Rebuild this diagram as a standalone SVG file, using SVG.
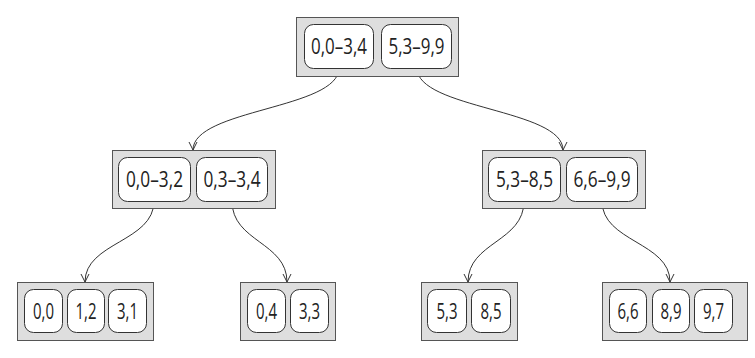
<svg xmlns="http://www.w3.org/2000/svg" width="755" height="358" viewBox="0 0 755 358">
<style>
.outer{fill:#dedede;stroke:#555;stroke-width:1}
.inner{fill:#fff;stroke:#333;stroke-width:1}
.t{font-family:"Open Sans","DejaVu Sans",sans-serif;font-size:21px;fill:#222;text-anchor:middle}
.edge{fill:none;stroke:#333;stroke-width:1;marker-end:url(#arr)}
</style>
<defs>
<marker id="arr" viewBox="0 0 10 10" refX="9" refY="5" markerWidth="10" markerHeight="10" markerUnits="userSpaceOnUse" orient="auto">
<path d="M1,1 L9,5 L1,9" fill="none" stroke="#333" stroke-width="1"/>
</marker>
</defs>
<rect width="755" height="358" fill="#fff"/>
<g id="connectors">
<path class="edge" d="M339,68 C339,109 193,109 193,150"/>
<path class="edge" d="M417,68 C417,109 563,109 563,150"/>
<path class="edge" d="M154,201 C154,242 85,242 85,282"/>
<path class="edge" d="M232,201 C232,242 287,242 287,282"/>
<path class="edge" d="M524,201 C524,242 468,242 468,282"/>
<path class="edge" d="M602,201 C602,242 670,242 670,282"/>
</g>
<g id="root">
<rect class="outer" x="296.5" y="17.5" width="162" height="59"/>
<rect class="inner" x="304.5" y="24.5" width="69" height="44" rx="9"/>
<rect class="inner" x="381.5" y="24.5" width="70" height="44" rx="9"/>
<text class="t" x="339" y="53.5" textLength="56" lengthAdjust="spacingAndGlyphs">0,0–3,4</text>
<text class="t" x="416.5" y="53.5" textLength="56" lengthAdjust="spacingAndGlyphs">5,3–9,9</text>
</g>
<g id="left">
<rect class="outer" x="112.5" y="150.5" width="163" height="58"/>
<rect class="inner" x="118.5" y="157.5" width="72" height="44" rx="9"/>
<rect class="inner" x="196.5" y="157.5" width="71" height="44" rx="9"/>
<text class="t" x="154.5" y="186.5" textLength="57" lengthAdjust="spacingAndGlyphs">0,0–3,2</text>
<text class="t" x="232" y="186.5" textLength="57" lengthAdjust="spacingAndGlyphs">0,3–3,4</text>
</g>
<g id="right">
<rect class="outer" x="482.5" y="150.5" width="163" height="58"/>
<rect class="inner" x="488.5" y="157.5" width="72" height="44" rx="9"/>
<rect class="inner" x="566.5" y="157.5" width="71" height="44" rx="9"/>
<text class="t" x="524.5" y="186.5" textLength="57" lengthAdjust="spacingAndGlyphs">5,3–8,5</text>
<text class="t" x="602" y="186.5" textLength="57" lengthAdjust="spacingAndGlyphs">6,6–9,9</text>
</g>
<g id="leaf1">
<rect class="outer" x="17.5" y="282.5" width="136" height="58"/>
<rect class="inner" x="24.5" y="289.5" width="38" height="43" rx="9"/>
<rect class="inner" x="67.5" y="289.5" width="37" height="43" rx="9"/>
<rect class="inner" x="108.5" y="289.5" width="38" height="43" rx="9"/>
<text class="t" x="43.5" y="318.5" textLength="21" lengthAdjust="spacingAndGlyphs">0,0</text>
<text class="t" x="86" y="318.5" textLength="21" lengthAdjust="spacingAndGlyphs">1,2</text>
<text class="t" x="127.5" y="318.5" textLength="21" lengthAdjust="spacingAndGlyphs">3,1</text>
</g>
<g id="leaf2">
<rect class="outer" x="240.5" y="282.5" width="95" height="58"/>
<rect class="inner" x="247.5" y="289.5" width="38" height="43" rx="9"/>
<rect class="inner" x="290.5" y="289.5" width="38" height="43" rx="9"/>
<text class="t" x="266.5" y="318.5" textLength="21" lengthAdjust="spacingAndGlyphs">0,4</text>
<text class="t" x="309.5" y="318.5" textLength="21" lengthAdjust="spacingAndGlyphs">3,3</text>
</g>
<g id="leaf3">
<rect class="outer" x="421.5" y="282.5" width="96" height="58"/>
<rect class="inner" x="427.5" y="289.5" width="39" height="43" rx="9"/>
<rect class="inner" x="471.5" y="289.5" width="39" height="43" rx="9"/>
<text class="t" x="447" y="318.5" textLength="21" lengthAdjust="spacingAndGlyphs">5,3</text>
<text class="t" x="491" y="318.5" textLength="21" lengthAdjust="spacingAndGlyphs">8,5</text>
</g>
<g id="leaf4">
<rect class="outer" x="602.5" y="282.5" width="145" height="58"/>
<rect class="inner" x="609.5" y="289.5" width="37" height="43" rx="9"/>
<rect class="inner" x="652.5" y="289.5" width="37" height="43" rx="9"/>
<rect class="inner" x="694.5" y="289.5" width="38" height="43" rx="9"/>
<text class="t" x="628" y="318.5" textLength="21" lengthAdjust="spacingAndGlyphs">6,6</text>
<text class="t" x="671" y="318.5" textLength="21" lengthAdjust="spacingAndGlyphs">8,9</text>
<text class="t" x="713.5" y="318.5" textLength="21" lengthAdjust="spacingAndGlyphs">9,7</text>
</g>
</svg>
